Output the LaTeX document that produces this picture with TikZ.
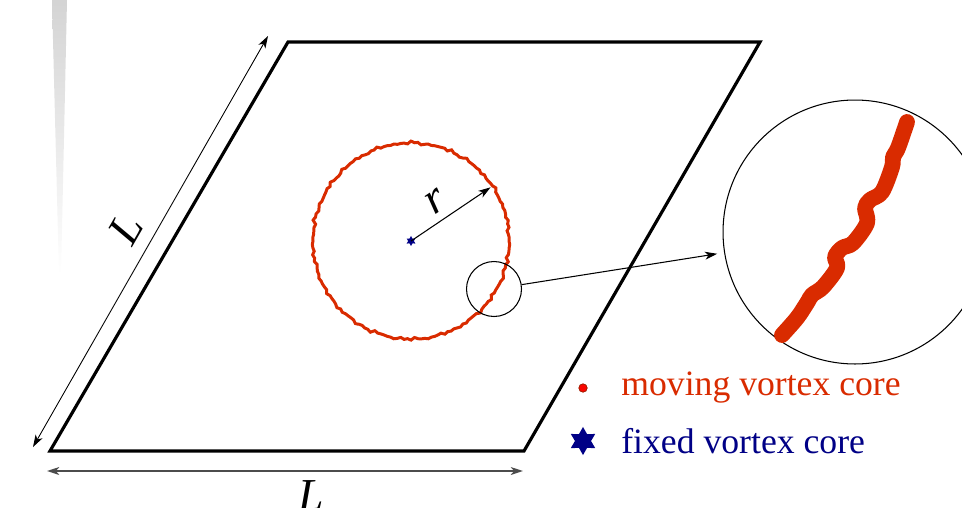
\documentclass[tikz,border=0pt]{standalone}
\usepackage{fontspec}
\setmainfont{Liberation Serif}
\usetikzlibrary{arrows.meta,positioning,calc,shapes.geometric}
\definecolor{core}{HTML}{D92B00}
\definecolor{pin}{HTML}{000086}
\newcommand{\wob}[1]{(0.4*sin(19*#1)+1.8*sin(37*#1+10)^12-1.2*sin(23*#1+40)^16)}
\tikzset{
  cell/.style={line width=1.8pt,line join=miter},
  dimarrow/.style={<->,line width=0.5pt},
  vstar/.style={star,star points=6,star point ratio=1.75,fill=pin,inner sep=0pt},
  lensring/.style={draw,circle,line width=0.6pt,inner sep=0pt},
  biglabel/.style={font=\fontsize{26}{30}\selectfont\itshape,inner sep=0pt},
  legend/.style={anchor=base west,font=\fontsize{20.3}{24}\selectfont,inner sep=0pt}
}

\begin{document}
\begin{tikzpicture}[x=0.02cm,y=-0.02cm,>={Stealth[length=7pt,width=4.5pt,inset=2pt]}]
  \useasboundingbox (0,0) rectangle (962,507);
  \shade[top color=black!17,bottom color=white] (52,0) -- (67,0) -- (61,275) -- (59,275) -- cycle;
  % periodic cell
  \coordinate (sw) at (50,451);  \coordinate (se) at (524,451);
  \coordinate (ne) at (760,42);  \coordinate (nw) at (288,42);
  \draw[cell] (sw) -- (se) -- (ne) -- (nw) -- cycle;
  \coordinate (la) at (33,447);  \coordinate (lb) at (268,36);
  \coordinate (ba) at (47,471);  \coordinate (bb) at (523,471);
  \draw[dimarrow] (la) -- (lb);
  \draw[dimarrow,line width=1pt,black!70] (ba) -- (bb);
  \node[biglabel,rotate=60] (lside) at (126,229) {L};
  \node[biglabel,anchor=base] (lbase) at (311,510) {L};
  % vortex ring around the fixed core
  \draw[core,line width=1.7pt] plot[smooth cycle,domain=0:358,samples=180]
    ({411+(98+\wob{\x})*cos(\x)},{241+(98+\wob{\x})*sin(\x)});
  \node[vstar,minimum size=5.7pt] (hub) at (411,241) {};
  \coordinate (rim) at ($(hub.center)+(-34:96)$);
  \draw[->,line width=0.6pt] (hub.center) -- (rim);
  \node[biglabel,rotate=34] (rlab) at (436,202) {r};
  % magnified piece
  \node[lensring,minimum size=1.1cm] (lens) at (494,289) {};
  \node[lensring,minimum size=5.28cm] (mag) at (855,232) {};
  \draw[->,line width=0.6pt,shorten >=4pt] (lens) -- (mag);
  \draw[core,line width=9pt,line cap=round,line join=round] plot[smooth,tension=0.55] coordinates {
    (782,335) (797,318) (807,303) (812,295) (823,287) (837,268) (835,257) (842,248)
    (853,243) (867,223) (865,208) (870,200) (882,192) (892,167) (893,157) (898,148) (907,122)};
  % legend
  \node[circle,fill=red!85!core,draw=core!70!black,line width=0.4pt,minimum size=4.8pt,inner sep=0pt] (mdot) at (583,388) {};
  \node[legend,text=core] (mtxt) at (621,395) {moving vortex core};
  \node[vstar,minimum size=16pt] (fstar) at (583,441) {};
  \node[legend,text=pin] (ftxt) at (621,453) {fixed vortex core};
\end{tikzpicture}
\end{document}
